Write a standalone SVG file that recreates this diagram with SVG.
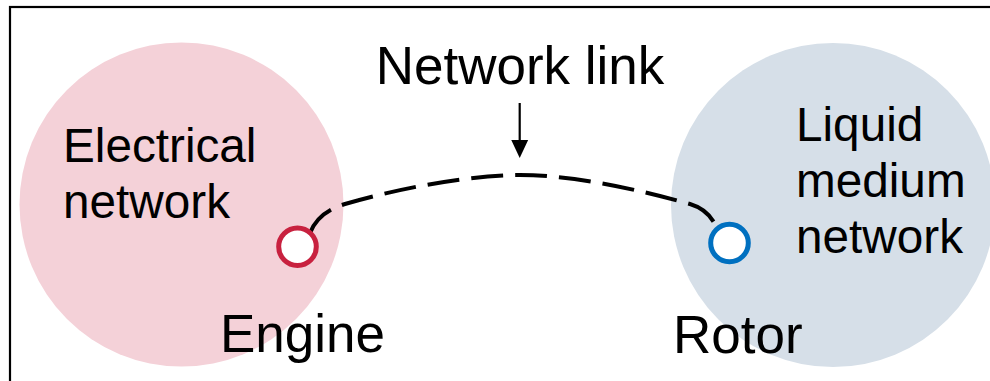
<svg xmlns="http://www.w3.org/2000/svg" width="990" height="381" viewBox="0 0 990 381">
<defs>
<style>
text{font-family:"Liberation Sans",Arial,sans-serif;fill:#000}
.lbl{font-size:47.7px}
.big{font-size:53px}
.port{fill:#fff;stroke-width:5}
</style>
<marker id="ah" markerUnits="userSpaceOnUse" markerWidth="18" markerHeight="18" refX="1" refY="8" orient="auto" viewBox="0 0 17 16">
<polygon points="0,0 17,8 0,16" fill="#000"/>
</marker>
</defs>
<rect x="0" y="0" width="990" height="381" fill="#fff"/>
<rect x="10" y="7" width="1000" height="400" fill="none" stroke="#000" stroke-width="2.2"/>
<g id="electrical-network">
<circle cx="181.5" cy="204.5" r="162" fill="#F4D1D8"/>
<text class="lbl" x="63" y="162">Electrical</text>
<text class="lbl" x="63" y="218">network</text>
</g>
<g id="liquid-medium-network">
<circle cx="833" cy="205" r="162" fill="#D6DFE8"/>
<text class="lbl" x="796" y="141">Liquid</text>
<text class="lbl" x="796" y="197">medium</text>
<text class="lbl" x="796" y="253">network</text>
</g>
<g id="connectors">
<path d="M310,233 Q318,212 345,204 C400,188 470,175 520,175 C575,175 640,190 690,204 Q710,210 717,229" fill="none" stroke="#000" stroke-width="4" stroke-dasharray="32 12"/>
<line x1="519.7" y1="103" x2="519.7" y2="141" stroke="#000" stroke-width="2.2" marker-end="url(#ah)"/>
</g>
<g id="engine">
<circle class="port" cx="297.5" cy="246.7" r="18.8" stroke="#C8213F"/>
<text class="big" x="220" y="352">Engine</text>
</g>
<g id="rotor">
<circle class="port" cx="729.5" cy="243" r="18.8" stroke="#0070C0"/>
<text class="big" x="673" y="353">Rotor</text>
</g>
<g id="network-link">
<text class="big" x="520" y="84" text-anchor="middle">Network link</text>
</g>
</svg>
